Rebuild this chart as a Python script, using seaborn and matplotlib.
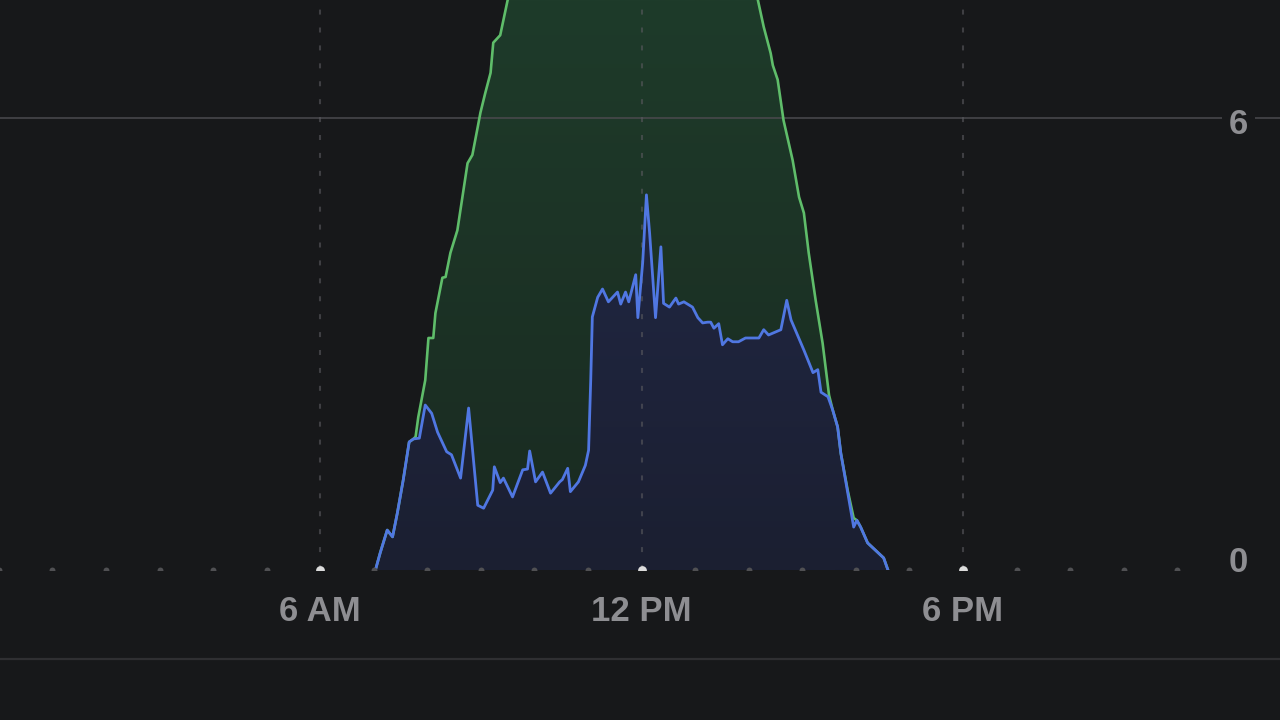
import numpy as np
import seaborn as sns
import matplotlib.pyplot as plt
import matplotlib.transforms as mtransforms
from matplotlib.colors import LinearSegmentedColormap
from matplotlib.lines import Line2D

# consumption (blue), hour of day -> kW
use_hours = [7.03, 7.12, 7.25, 7.35, 7.44, 7.55, 7.66, 7.74, 7.85, 7.96, 8.08, 8.19,
             8.36, 8.45, 8.62, 8.77, 8.94, 9.05, 9.22, 9.25, 9.36, 9.42, 9.59, 9.78,
             9.87, 9.91, 10.02, 10.15, 10.30, 10.47, 10.52, 10.62, 10.67, 10.82, 10.95,
             11.01, 11.05, 11.08, 11.18, 11.27, 11.38, 11.55, 11.61, 11.70, 11.76, 11.89,
             11.93, 12.02, 12.09, 12.15, 12.26, 12.36, 12.41, 12.52, 12.64, 12.69, 12.79,
             12.95, 13.05, 13.14, 13.23, 13.29, 13.35, 13.44, 13.51, 13.61, 13.70, 13.81,
             13.94, 14.19, 14.28, 14.37, 14.60, 14.71, 14.79, 15.03, 15.20, 15.29, 15.35,
             15.48, 15.57, 15.66, 15.72, 15.85, 15.96, 16.02, 16.09, 16.22, 16.52, 16.60]
use_kw = [0.00, 0.23, 0.53, 0.44, 0.76, 1.20, 1.70, 1.74, 1.75, 2.19, 2.08, 1.83,
          1.57, 1.53, 1.22, 2.15, 0.86, 0.82, 1.06, 1.37, 1.16, 1.22, 0.97, 1.33,
          1.34, 1.58, 1.17, 1.30, 1.02, 1.17, 1.20, 1.35, 1.04, 1.17, 1.39,
          1.59, 2.52, 3.36, 3.62, 3.73, 3.56, 3.69, 3.53, 3.69, 3.56, 3.92,
          3.35, 4.08, 4.98, 4.47, 3.35, 4.29, 3.54, 3.49, 3.61, 3.53, 3.56,
          3.49, 3.35, 3.28, 3.29, 3.29, 3.21, 3.27, 2.99, 3.07, 3.03, 3.03,
          3.08, 3.08, 3.19, 3.12, 3.19, 3.58, 3.32, 2.92, 2.62, 2.66, 2.36,
          2.30, 2.12, 1.90, 1.55, 1.02, 0.57, 0.66, 0.57, 0.36, 0.16, 0.00]

# solar production (green), hour of day -> kW
solar_hours = [7.03, 7.12, 7.25, 7.35, 7.44, 7.55, 7.66, 7.74, 7.78, 7.83, 7.96, 8.02,
               8.11, 8.15, 8.28, 8.34, 8.43, 8.56, 8.75, 8.84, 8.94, 8.99, 9.08, 9.18,
               9.23, 9.36, 9.50, 9.75, 10.5, 11.3, 12.0, 12.8, 13.5, 14.0, 14.17, 14.28,
               14.41, 14.45, 14.54, 14.65, 14.82, 14.94, 15.03, 15.12, 15.25, 15.38, 15.50,
               15.57, 15.66, 15.72, 15.85, 15.96, 16.02, 16.09, 16.22, 16.52, 16.60]
solar_kw = [0.00, 0.23, 0.53, 0.44, 0.76, 1.20, 1.70, 1.74, 1.77, 2.03, 2.52, 3.08,
            3.08, 3.41, 3.88, 3.89, 4.21, 4.51, 5.40, 5.51, 5.88, 6.07, 6.33, 6.60,
            7.00, 7.10, 7.57, 7.95, 8.45, 8.80, 8.90, 8.80, 8.45, 7.85, 7.57, 7.21,
            6.86, 6.70, 6.51, 5.97, 5.44, 4.95, 4.74, 4.21, 3.58, 3.01, 2.32,
            2.12, 1.90, 1.55, 1.05, 0.69, 0.66, 0.57, 0.36, 0.16, 0.00]

hour_ticks = [6, 12, 18]
hour_labels = ["6 AM", "12 PM", "6 PM"]
kw_ticks = [0, 6]

bg = "#17181a"
label_color = "#8e8e92"
blue = "#5077e2"
green = "#5fbd6a"

sns.set_theme(style="dark", rc={"axes.facecolor": bg, "figure.facecolor": bg})
plt.rcParams["font.family"] = ["Liberation Sans", "DejaVu Sans"]

fig = plt.figure(figsize=(12.8, 7.2), dpi=100)
ax = fig.add_axes([0, 150 / 720, 1, 570 / 720])
xlim = (0.02, 23.92)
ylim = (0, 7.567)


def gradient_fill(x, y, top_color, bottom_color, z):
    poly = ax.fill_between(x, y, 0, color="none", lw=0)
    cmap = LinearSegmentedColormap.from_list("g", [bottom_color, top_color])
    grad = np.linspace(0, 1, 256).reshape(-1, 1)
    img = ax.imshow(grad, extent=[xlim[0], xlim[1], ylim[0], ylim[1]], origin="lower",
                    aspect="auto", cmap=cmap, zorder=z)
    img.set_clip_path(poly.get_paths()[0], transform=ax.transData)


gradient_fill(solar_hours, solar_kw, "#1e3b2a", "#1a2a21", 1)
gradient_fill(use_hours, use_kw, "#232b4c", "#1b1f31", 2)

# grid
ax.axhline(6, color="#4a4a4e", lw=1.4, alpha=0.8, zorder=3)
for h in hour_ticks:
    ax.axvline(h, color="#5a5a5f", lw=1.5, alpha=0.6, ls=(0, (2.4, 6.2)), zorder=3)

sns.lineplot(x=solar_hours, y=solar_kw, ax=ax, color=green, lw=1.9, zorder=4, sort=False)
sns.lineplot(x=use_hours, y=use_kw, ax=ax, color=blue, lw=2.0, zorder=5, sort=False)

# hour dots on the baseline (half hidden by the axes edge)
all_hours = np.arange(0, 25)
minor = [h for h in all_hours if h not in hour_ticks]
ax.scatter(minor, np.zeros(len(minor)), s=18, color="#505053", lw=0, zorder=6)
ax.scatter(hour_ticks, np.zeros(len(hour_ticks)), s=40, color="#dcdcdc", lw=0, zorder=6)

ax.set_xlim(*xlim)
ax.set_ylim(*ylim)
ax.set_xticks([])
ax.set_yticks([])
for s in ax.spines.values():
    s.set_visible(False)

font = dict(fontsize=25, fontweight="bold", color=label_color)
trans_x = mtransforms.blended_transform_factory(ax.transData, ax.transAxes)
for h, lab in zip(hour_ticks, hour_labels):
    ax.text(h, -51 / 570, lab, transform=trans_x, ha="center", va="baseline",
            clip_on=False, **font)

trans_y = mtransforms.blended_transform_factory(ax.transAxes, ax.transData)
for v in kw_ticks:
    ax.text(1248 / 1280, v - (16 if v else 2) / 75.33, str(v), transform=trans_y,
            ha="right", va="baseline", clip_on=False, zorder=7,
            bbox=dict(boxstyle="square,pad=0.2", fc=bg, ec="none"), **font)

fig.add_artist(Line2D([0, 1], [61.5 / 720, 61.5 / 720], color="#2f2f32", lw=1.6))

plt.savefig("out.png", dpi=100, facecolor=bg)
